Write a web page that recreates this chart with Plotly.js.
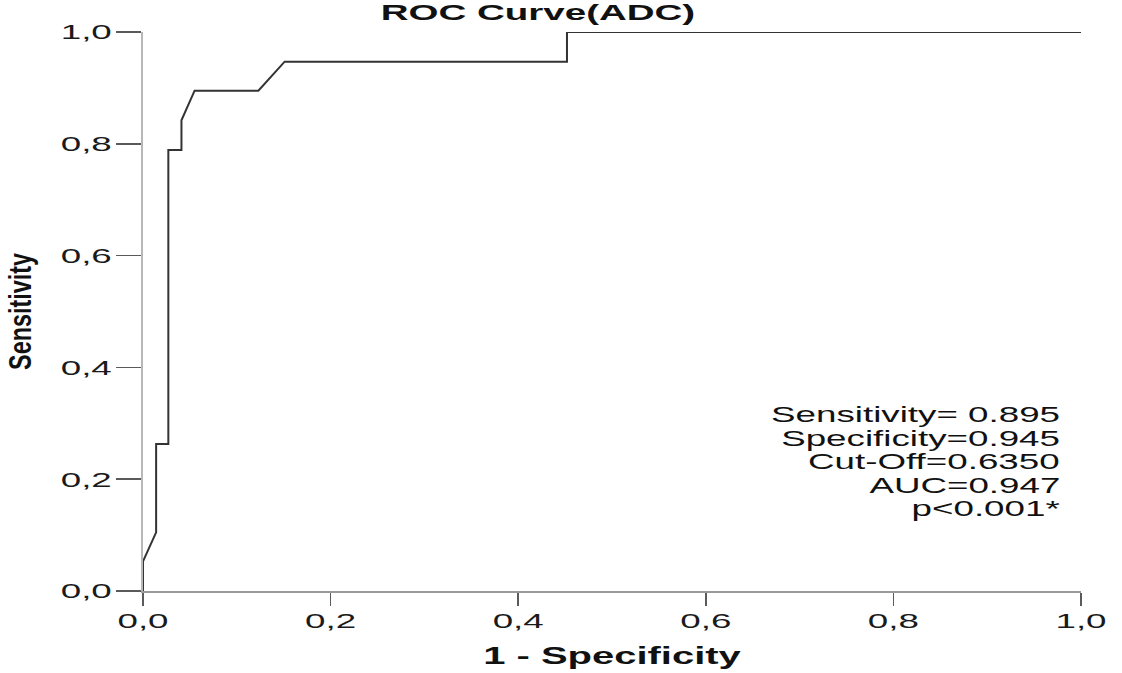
<!DOCTYPE html>
<html>
<head>
<meta charset="utf-8">
<script src="https://cdn.plot.ly/plotly-3.0.1.min.js"></script>
<style>
  html, body { margin: 0; padding: 0; background: #ffffff; }
  #chart { width: 1122px; height: 673px; }
</style>
</head>
<body>
<div id="chart"></div>
<script>
// ROC curve (ADC): 1 - specificity vs sensitivity
const fpr = [0, 0, 0.014, 0.014, 0.027, 0.027, 0.041, 0.041, 0.055, 0.123, 0.151, 0.452, 0.452, 1.0];
const tpr = [0, 0.053, 0.105, 0.263, 0.263, 0.789, 0.789, 0.842, 0.895, 0.895, 0.947, 0.947, 1.0, 1.0];

const tickVals = [0, 0.2, 0.4, 0.6, 0.8, 1.0];
const statLines = ["Sensitivity= 0.895", "Specificity=0.945", "Cut-Off=0.6350", "AUC=0.947", "p<0.001*"];
const statY = [0.315, 0.273, 0.231, 0.189, 0.147];

const chartTitle = "ROC Curve(ADC)";
const xTitle = "1 - Specificity";
const yTitle = "Sensitivity";

const FONT = "Liberation Sans, Arial, sans-serif";

const trace = {
  x: fpr, y: tpr,
  type: "scatter", mode: "lines",
  line: { color: "#333333", width: 2, shape: "linear" },
  cliponaxis: false,
  hoverinfo: "x+y",
  showlegend: false
};

const annotations = statLines.map((t, i) => ({
  text: t,
  xref: "paper", yref: "paper",
  x: 0.98, y: statY[i],
  xanchor: "right", yanchor: "middle",
  align: "right",
  showarrow: false,
  font: { family: FONT, size: 22, color: "#111111" }
}));

const layout = {
  width: 1122, height: 673,
  margin: { l: 143, r: 41, t: 32, b: 82, pad: 0 },
  paper_bgcolor: "#ffffff",
  plot_bgcolor: "#ffffff",
  separators: ", ",
  title: {
    text: chartTitle,
    font: { family: FONT, size: 22, color: "#111111", weight: "bold" },
    x: 0.4795, xref: "container", xanchor: "center",
    y: 0.981, yref: "container", yanchor: "middle"
  },
  xaxis: {
    range: [0, 1],
    tickvals: tickVals,
    tickformat: ".1f",
    ticks: "outside", ticklen: 13, tickwidth: 1.5, tickcolor: "#5a5a5a",
    tickfont: { family: FONT, size: 21, color: "#1a1a1a" },
    ticklabelstandoff: -3,
    showline: true, linecolor: "#9a9a9a", linewidth: 1.5,
    showgrid: false, zeroline: false,
    layer: "below traces",
    title: {
      text: xTitle,
      font: { family: FONT, size: 23.5, color: "#111111", weight: "bold" },
      standoff: 17
    }
  },
  yaxis: {
    range: [0, 1],
    tickvals: tickVals,
    tickformat: ".1f",
    ticks: "outside", ticklen: 25, tickwidth: 1.5, tickcolor: "#5a5a5a",
    tickfont: { family: FONT, size: 21, color: "#1a1a1a" },
    showline: true, linecolor: "#b8b8b8", linewidth: 2,
    showgrid: false, zeroline: false,
    layer: "below traces",
    title: {
      text: yTitle,
      font: { family: FONT, size: 32, color: "#111111", weight: "bold" },
      standoff: 41
    }
  },
  annotations: annotations
};

function stretch(sel, factor) {
  document.querySelectorAll(sel).forEach(el => {
    const len = el.getComputedTextLength();
    if (len > 0) {
      el.setAttribute("textLength", (len * factor).toFixed(2));
      el.setAttribute("lengthAdjust", "spacingAndGlyphs");
    }
  });
}

Plotly.newPlot("chart", [trace], layout, { displayModeBar: false, staticPlot: true }).then(() => {
  stretch(".xtick text", 1.75);
  stretch(".ytick text", 1.75);
  stretch(".gtitle", 1.75);
  stretch(".g-xtitle text", 1.7);
  stretch(".g-ytitle text", 0.73);
  stretch(".annotation-text", 1.67);
});
</script>
</body>
</html>
